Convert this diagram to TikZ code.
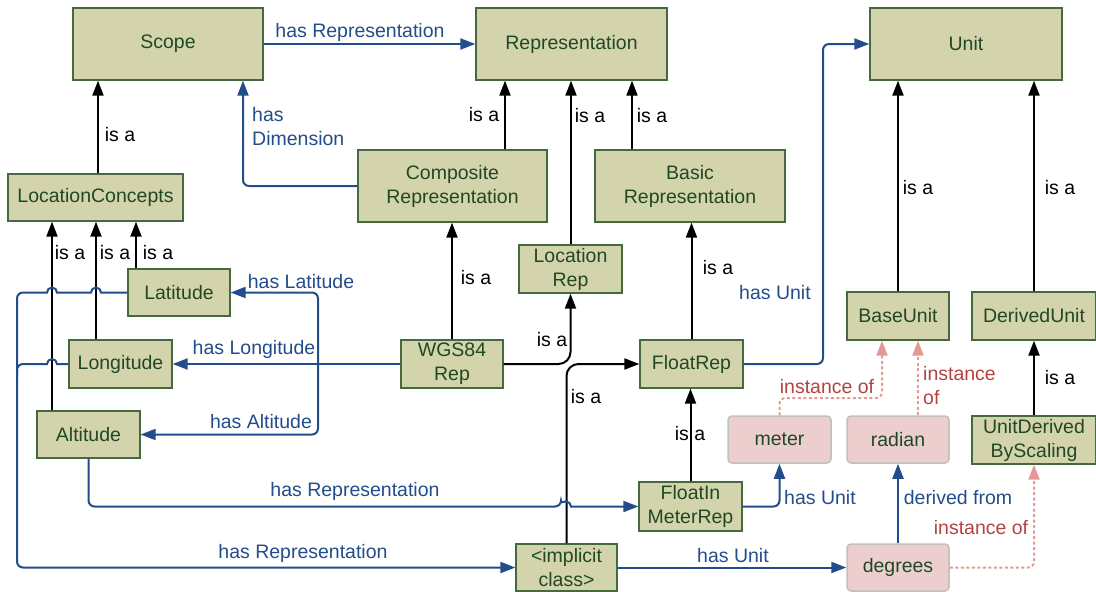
\documentclass[tikz,border=0pt]{standalone}
\usepackage{fontspec}
\setmainfont{Liberation Sans}
\usetikzlibrary{arrows.meta}

\definecolor{boxfill}{RGB}{211,212,172}
\definecolor{boxedge}{RGB}{70,105,65}
\definecolor{boxtext}{RGB}{32,72,36}
\definecolor{instfill}{RGB}{236,206,206}
\definecolor{instedge}{RGB}{192,192,192}
\definecolor{relblue}{RGB}{35,76,138}
\definecolor{dashpink}{RGB}{228,152,148}
\definecolor{instred}{RGB}{180,66,64}

\newcommand\dfont{\fontsize{19.5}{24}\selectfont}

\begin{document}
\begin{tikzpicture}[x=1pt,y=-1pt,
  size/.style 2 args={minimum width=#1pt, minimum height=#2pt},
  cls/.style={draw=boxedge, fill=boxfill, line width=1.3pt, text=boxtext,
    inner sep=0pt, align=center, font=\dfont},
  inst/.style={draw=instedge, fill=instfill, rounded corners=4pt, line width=1.5pt,
    text=boxtext, inner sep=0pt, align=center, font=\dfont},
  tip/.style={-{Triangle[length=15pt,width=11pt]}},
  isa/.style={draw=black, line width=2pt, tip},
  rel/.style={draw=relblue, line width=2pt, tip},
  relline/.style={draw=relblue, line width=2pt},
  io/.style={draw=dashpink, line width=2pt, dash pattern=on 3pt off 2.5pt, tip,
    rounded corners=6pt},
  lab/.style={font=\dfont, inner sep=0pt, text=black},
  rlab/.style={lab, text=relblue},
  ilab/.style={lab, text=instred},
]
\useasboundingbox (0,0) rectangle (1096,592);

% ---------- classes ----------
\node[cls, size={190}{72}] (scope) at (168,44) {Scope};
\node[cls, size={191}{72}] (repr) at (571.5,44) {Representation};
\node[cls, size={192}{72}] (unit) at (966,44) {Unit};
\node[cls, size={175}{47}] (loccon) at (95.5,197.5) {LocationConcepts};
\node[cls, size={189}{72}] (comp) at (452.5,186) {Composite\\Representation};
\node[cls, size={190}{72}] (basic) at (690,186) {Basic\\Representation};
\node[cls, size={103}{48}] (locrep) at (570.5,269) {Location\\Rep};
\node[cls, size={102}{47}] (lat) at (179,292.5) {Latitude};
\node[cls, size={103}{48}] (lon) at (120.5,364) {Longitude};
\node[cls, size={103}{47}] (alt) at (88.5,434.5) {Altitude};
\node[cls, size={102}{48}] (wgs) at (452,364) {WGS84\\Rep};
\node[cls, size={103}{48}] (float) at (691.5,364) {FloatRep};
\node[cls, size={102}{48}] (base) at (898,316) {BaseUnit};
\node[cls, size={124}{48}] (derived) at (1034,316) {DerivedUnit};
\node[cls, size={124}{48}] (udbs) at (1034,440) {UnitDerived\\ByScaling};
\node[cls, size={103}{49}] (fim) at (690.5,506.5) {FloatIn\\MeterRep};
\node[cls, size={101}{47}] (impl) at (566.5,567.5) {<implicit\\class>};

% ---------- instances ----------
\node[inst, size={103}{47}] (meter) at (779.5,439.5) {meter};
\node[inst, size={102}{47}] (radian) at (898,439.5) {radian};
\node[inst, size={102}{47}] (degrees) at (898,567.5) {degrees};

% ---------- is-a links ----------
\draw[isa] (loccon.north -| 98,0) -- (scope.south -| 98,0);
\draw[isa] (comp.north -| 505,0) -- (repr.south -| 505,0);
\draw[isa] (locrep.north -| 571,0) -- (repr.south -| 571,0);
\draw[isa] (basic.north -| 632,0) -- (repr.south -| 632,0);
\draw[isa] (base.north) -- (unit.south -| base.north);
\draw[isa] (derived.north) -- (unit.south -| derived.north);
\draw[isa] (lat.north -| 136,0) -- (loccon.south -| 136,0);
\draw[isa] (lon.north -| 96,0) -- (loccon.south -| 96,0);
\draw[isa] (alt.north -| 52,0) -- (loccon.south -| 52,0);
\draw[isa] (wgs.north) -- (comp.south -| wgs.north);
\draw[isa, rounded corners=12pt] (wgs.east) -| (locrep.south);
\draw[isa] (float.north) -- (basic.south -| float.north);
\draw[isa] (fim.north) -- (float.south -| fim.north);
\draw[isa, rounded corners=12pt] (impl.north) |- (float.west);
\draw[isa] (udbs.north) -- (derived.south);

% ---------- relations ----------
\draw[rel] (scope.east) -- (repr.west);
\draw[rel, rounded corners=6pt] (comp.west) -| (scope.south -| 243,0);
\draw[rel, rounded corners=6pt] (float.east) -- (float.east -| 823,0) |- (unit.west);
\coordinate (split) at (wgs.west -| 318,0);
\draw[rel] (wgs.west) -- (lon.east);
\draw[rel, rounded corners=6pt] (split) |- (lat.east);
\draw[rel, rounded corners=6pt] (split) |- (alt.east);
\draw[rel, rounded corners=6pt] (fim.east) -| (meter.south);
\draw[rel] {[rounded corners=6pt] (alt.south) |- (fim.west -| 561,0)}
  arc[start angle=180, end angle=360, radius=5] -- (fim.west);
\draw[rel] (lat.west) -- (lat.west -| 101,0)
  arc[start angle=0, end angle=-180, radius=5] -- (lat.west -| 57,0)
  arc[start angle=0, end angle=-180, radius=5]
  {[rounded corners=6pt] -- (lat.west -| 17,0) |- (impl.west)};
\draw[relline] (lon.west) -- (lon.west -| 57,0)
  arc[start angle=0, end angle=-180, radius=5]
  {[rounded corners=6pt] -- (lon.west -| 17,0) -- ++(0,12)};
\draw[rel] (impl.east) -- (degrees.west);
\draw[rel] (degrees.north) -- (radian.south);

% ---------- instance-of links ----------
\draw[io] (meter.north) -- (meter.north |- 0,398) -| (base.south -| 882,0);
\draw[io] (radian.north -| 918,0) -- (base.south -| 918,0);
\draw[io] (degrees.east) -| (udbs.south);

% ---------- labels ----------
\node[rlab] (l1) at (360,32) {has Representation};
\node[lab] (l2) at (120,135) {is a};
\node[rlab, anchor=west, align=left] (l3) at (252,126.5) {has\\Dimension};
\node[lab] (l4) at (484,115) {is a};
\node[lab] (l5) at (590,116) {is a};
\node[lab] (l6) at (652,116) {is a};
\node[lab] (l7) at (70,253) {is a};
\node[lab] (l8) at (115,253) {is a};
\node[lab] (l9) at (158,253) {is a};
\node[lab] (l10) at (476,278) {is a};
\node[lab] (l11) at (552,340) {is a};
\node[lab] (l12) at (586,397) {is a};
\node[lab] (l13) at (718,268) {is a};
\node[lab] (l14) at (690,434) {is a};
\node[lab] (l15) at (918,188) {is a};
\node[lab] (l16) at (1060,188) {is a};
\node[lab] (l17) at (1060,378) {is a};
\node[rlab] (l18) at (301,282) {has Latitude};
\node[rlab] (l19) at (254,349) {has Longitude};
\node[rlab] (l20) at (261,422) {has Altitude};
\node[rlab] (l21) at (355,491) {has Representation};
\node[rlab] (l22) at (303,553) {has Representation};
\node[rlab] (l23) at (775,293) {has Unit};
\node[rlab] (l24) at (820,498) {has Unit};
\node[rlab] (l25) at (733,556) {has Unit};
\node[rlab] (l26) at (958,498) {derived from};
\node[ilab] (l27) at (827,387) {instance of};
\node[ilab] (l28) at (981,528) {instance of};
\node[ilab, anchor=west, align=left] (l29) at (923,385.5) {instance\\of};
\end{tikzpicture}
\end{document}
